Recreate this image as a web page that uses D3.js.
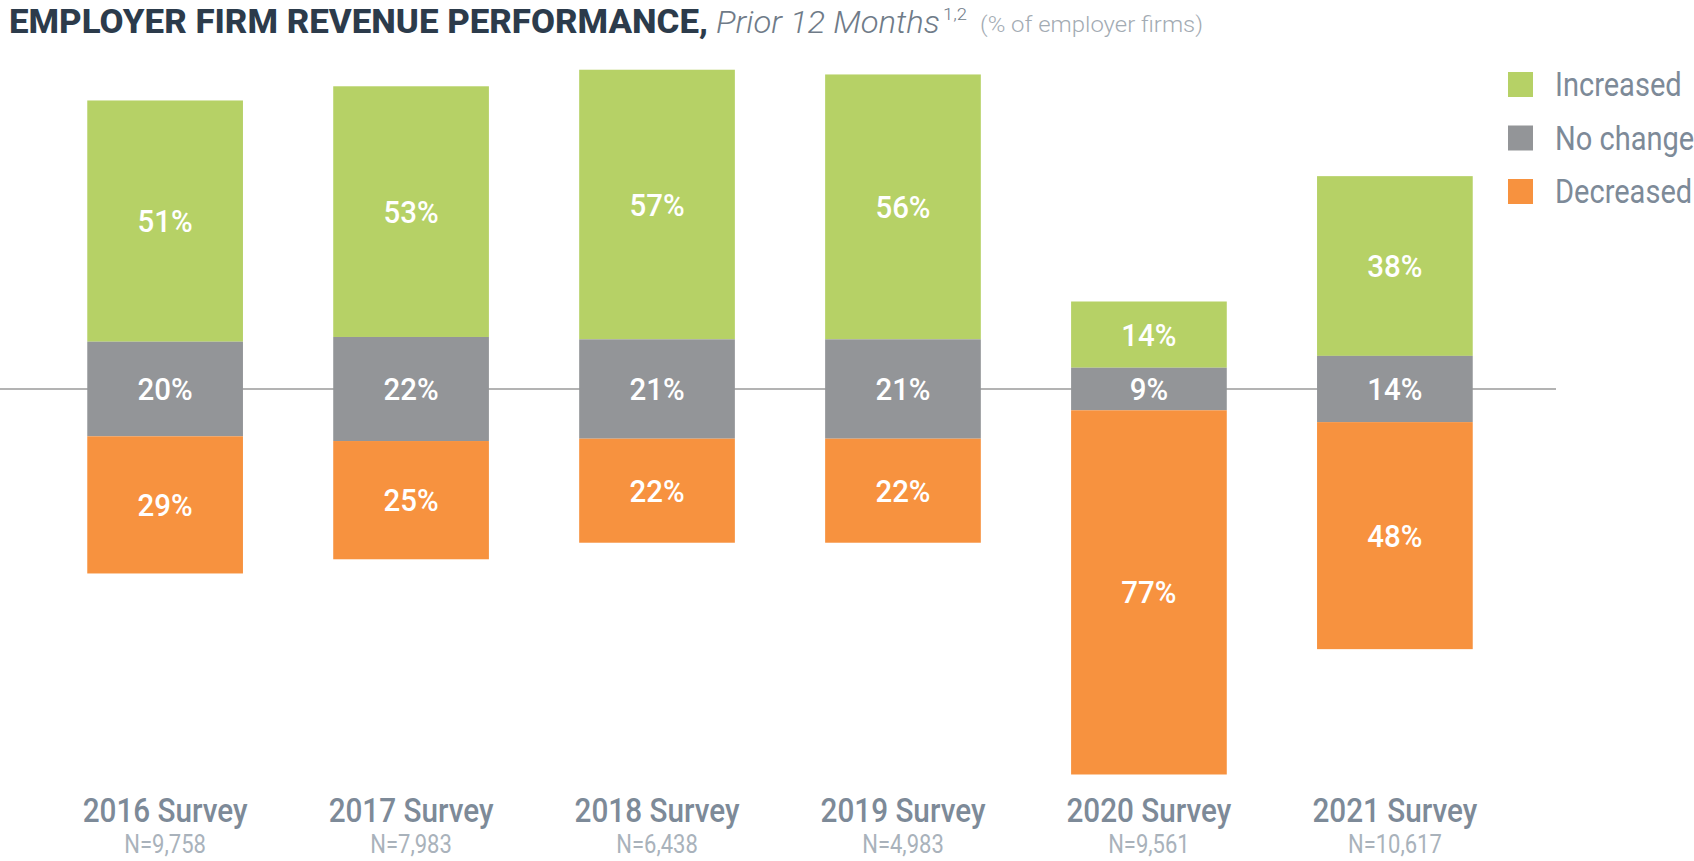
<!DOCTYPE html>
<html>
<head>
<meta charset="utf-8">
<script src="https://cdn.jsdelivr.net/npm/d3@7"></script>
<style>
  body { margin: 0; background: #fff; }
  text { font-family: Roboto, "Noto Sans", sans-serif; }
</style>
</head>
<body>
<div id="chart"></div>
<script>
// data
const years = ["2016 Survey", "2017 Survey", "2018 Survey", "2019 Survey", "2020 Survey", "2021 Survey"];
const sampleSizes = ["N=9,758", "N=7,983", "N=6,438", "N=4,983", "N=9,561", "N=10,617"];
const increased = [51, 53, 57, 56, 14, 38];
const noChange = [20, 22, 21, 21, 9, 14];
const decreased = [29, 25, 22, 22, 77, 48];
const seriesNames = ["Increased", "No change", "Decreased"];

const width = 1694,
    height = 861,
    baseY = 389,
    pxPerPct = 4.73;

const colors = d3.scaleOrdinal()
    .domain(seriesNames)
    .range(["#b6d166", "#939598", "#f7923f"]);

const x = d3.scaleBand()
    .domain(years)
    .range([-3, 1563])
    .padding(0.367);

// 0 = centre of the "no change" segment
const y = d3.scaleLinear()
    .domain([-100, 100])
    .range([baseY + 100 * pxPerPct, baseY - 100 * pxPerPct]);

let svg = d3.select("#chart").append("svg")
    .attr("width", width)
    .attr("height", height);

// title, pieces laid out one after another
const title = [
  {t: "EMPLOYER FIRM REVENUE PERFORMANCE,", x: 9, len: 699, size: 33, w: 800, st: "normal", c: "#2c3b4b", y: 33},
  {t: "Prior 12 Months", x: 716, len: 224, size: 31, w: 300, st: "italic", c: "#6f7b88", y: 33},
  {t: "1,2", x: 943, len: 24, size: 16, w: 300, st: "normal", c: "#6f7b88", y: 20},
  {t: "(% of employer firms)", x: 980, len: 223, size: 22, w: 300, st: "normal", c: "#a3abb3", y: 32}
];
svg.selectAll(".title")
  .data(title)
  .enter().append("text")
    .attr("class", "title")
    .attr("x", d => d.x)
    .attr("y", d => d.y)
    .attr("textLength", d => d.len)
    .attr("lengthAdjust", "spacingAndGlyphs")
    .style("font-size", d => d.size + "px")
    .style("font-weight", d => d.w)
    .style("font-style", d => d.st)
    .style("fill", d => d.c)
    .text(d => d.t);

// baseline
svg.append("line")
    .attr("x1", 0)
    .attr("x2", 1556)
    .attr("y1", baseY)
    .attr("y2", baseY)
    .style("stroke", "#9a9a9a")
    .style("stroke-width", 1.5);

// build segments
let segs = [];
years.forEach((yr, i) => {
  const h = noChange[i] / 2;
  segs.push({year: yr, key: "Increased", v: increased[i], y0: h, y1: h + increased[i]});
  segs.push({year: yr, key: "No change", v: noChange[i], y0: -h, y1: h});
  segs.push({year: yr, key: "Decreased", v: decreased[i], y0: -h - decreased[i], y1: -h});
});

svg.selectAll(".seg")
  .data(segs)
  .enter().append("rect")
    .attr("class", "seg")
    .attr("x", d => x(d.year))
    .attr("width", x.bandwidth())
    .attr("y", d => y(d.y1))
    .attr("height", d => y(d.y0) - y(d.y1))
    .style("fill", d => colors(d.key));

svg.selectAll(".val")
  .data(segs)
  .enter().append("text")
    .attr("class", "val")
    .attr("text-anchor", "middle")
    .attr("transform", d => "translate(" + (x(d.year) + x.bandwidth() / 2) + "," + (y((d.y0 + d.y1) / 2) + 11) + ") scale(0.95,1)")
    .style("font-size", "31px")
    .style("font-weight", 500)
    .style("fill", "#fff")
    .text(d => d.v + "%");

// category labels
let cats = svg.selectAll(".cat")
  .data(years)
  .enter().append("g")
    .attr("class", "cat")
    .attr("transform", d => "translate(" + (x(d) + x.bandwidth() / 2) + ",0)");

cats.append("text")
    .attr("text-anchor", "middle")
    .attr("transform", "translate(0,822) scale(0.9,1)")
    .style("font-size", "33px")
    .style("font-weight", 500)
    .style("fill", "#7d8a98")
    .text(d => d);

cats.append("text")
    .attr("text-anchor", "middle")
    .attr("transform", "translate(0,853) scale(0.88,1)")
    .style("font-size", "25px")
    .style("fill", "#a9b2bb")
    .text((d, i) => sampleSizes[i]);

// legend
let legend = svg.selectAll(".legend")
  .data(seriesNames)
  .enter().append("g")
    .attr("class", "legend")
    .attr("transform", (d, i) => "translate(1508," + (72 + i * 53.5) + ")");

legend.append("rect")
    .attr("width", 25)
    .attr("height", 25)
    .style("fill", colors);

legend.append("text")
    .attr("transform", "translate(47,24) scale(0.88,1)")
    .style("font-size", "33px")
    .style("fill", "#7d8a98")
    .text(d => d);
</script>
</body>
</html>
